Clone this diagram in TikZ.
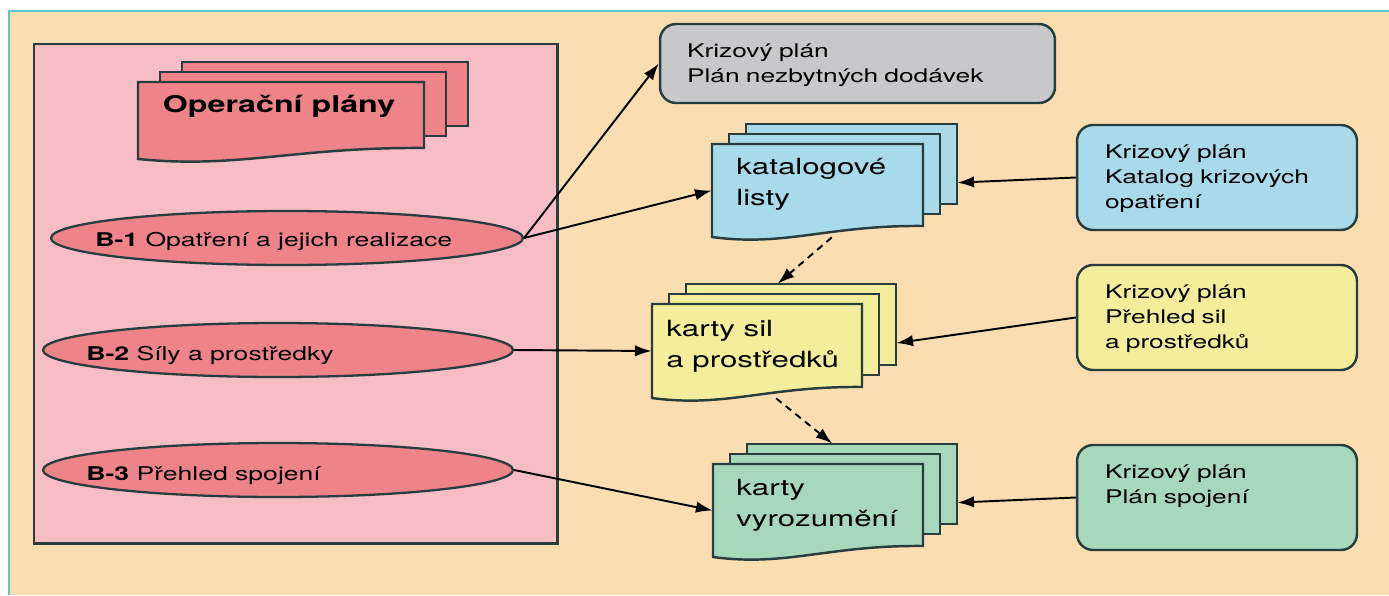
\documentclass[tikz,border=0pt]{standalone}
\usepackage{fontspec}
\setmainfont{TeX Gyre Heros}[FakeStretch=1.4]
\usetikzlibrary{arrows.meta,shapes.geometric}

\definecolor{paper}{RGB}{250,222,178}
\definecolor{rim}{RGB}{92,198,204}
\definecolor{ink}{RGB}{40,62,62}
\definecolor{planpink}{RGB}{246,190,196}
\definecolor{planred}{RGB}{238,132,138}
\definecolor{plangrey}{RGB}{200,200,202}
\definecolor{listblue}{RGB}{168,218,234}
\definecolor{listyellow}{RGB}{244,238,156}
\definecolor{listgreen}{RGB}{168,216,188}

% stack of three sheets, the front one with a wavy lower edge
% #1 name, #2 #3 top left corner of the front sheet, #4 width, #5 height,
% #6 step to the right between the sheets, #7 fill
\newcommand{\docstack}[7]{%
  \foreach \k in {2,1}
    \draw[sheet, fill=#7] (#2+\k*#6, #3-\k*10) rectangle ++(#4, #5-13);
  \draw[sheet, fill=#7] (#2,#3) -- ++(#4,0) -- ++(0,#5-11)
    .. controls (#2+0.55*#4, #3+#5-12) and (#2+0.35*#4, #3+#5+10) .. (#2,#3+#5)
    -- cycle;
  \node[minimum width=#4*0.02cm, minimum height=#5*0.02cm, inner sep=0]
    (#1) at (#2+0.5*#4, #3+0.5*#5) {};
  \node[minimum width=#4*0.02cm, minimum height=(#5-13)*0.02cm, inner sep=0]
    (#1-back) at (#2+2*#6+0.5*#4, #3-20+0.5*#5-6.5) {};
}

\begin{document}
\begin{tikzpicture}[x=0.02cm, y=-0.02cm,
    sheet/.style={draw=ink, line width=1.4pt},
    oval/.style={ellipse, draw=ink, fill=planred, line width=1.3pt,
      minimum height=1.08cm, inner sep=0},
    ovaltext/.style={anchor=base west, inner sep=0,
      font=\fontsize{10.8}{13}\selectfont},
    doctext/.style={anchor=north west, align=left, inner sep=0,
      font=\fontsize{12.7}{17.5}\selectfont},
    planbox/.style={draw=ink, line width=1.4pt, rounded corners=0.32cm,
      minimum width=5.6cm, minimum height=2.1cm, inner xsep=0.56cm,
      inner ysep=0.4cm, text width=4.48cm, text depth=1.02cm, align=left,
      font=\fontsize{10.7}{14.2}\selectfont},
    arr/.style={-{Latex[length=9.5pt,width=6.5pt]}, line width=1.1pt},
    dasharr/.style={arr, dash pattern=on 4pt off 3pt}]

  % paper and frame
  \useasboundingbox (0,0) rectangle (1389,595);
  \fill[paper] (9,11) rectangle (1389,595);
  \draw[rim, line width=1.2pt] (9,595) -- (9,11) -- (1389,11);
  \draw[ink, line width=1.7pt, fill=planpink] (34,44) rectangle (557,543);

  % operational plans
  \docstack{op}{138}{82}{286}{77}{22}{planred}
  \node[font=\bfseries\fontsize{13.1}{15}\selectfont] (op-t) at (279,106) {Operační plány};

  \node[oval, minimum width=9.44cm] (b1) at (287,238) {};
  \node[oval, minimum width=9.4cm] (b2) at (278,350) {};
  \node[oval, minimum width=9.4cm] (b3) at (278,470) {};
  \node[ovaltext] (b1-t) at (95,246) {\textbf{B-1} Opatření a jejich realizace};
  \node[ovaltext] (b2-t) at (86,360) {\textbf{B-2} Síly a prostředky};
  \node[ovaltext] (b3-t) at (86,480) {\textbf{B-3} Přehled spojení};

  % cards
  \docstack{kat}{712}{144}{211}{93}{17}{listblue}
  \docstack{sil}{652}{304}{210}{94}{17}{listyellow}
  \docstack{vyr}{713}{464}{210}{93}{17}{listgreen}
  \node[doctext] (kat-t) at (736,158) {katalogové\\listy};
  \node[doctext] (sil-t) at (666,320) {karty sil\\a prostředků};
  \node[doctext] (vyr-t) at (736,479) {karty\\vyrozumění};

  % crisis plan parts
  \node[planbox, fill=plangrey, minimum width=7.9cm, minimum height=1.58cm,
    inner xsep=0.54cm, text width=6.82cm, text depth=0.5cm]
    (kp-dod) at (857.5,63.5) {Krizový plán\\Plán nezbytných dodávek};
  \node[planbox, fill=listblue] (kp-kat) at (1217,177.5) {Krizový plán\\Katalog krizových\\opatření};
  \node[planbox, fill=listyellow] (kp-sil) at (1217,317.5) {Krizový plán\\Přehled sil\\a prostředků};
  \node[planbox, fill=listgreen] (kp-spoj) at (1217,497.5) {Krizový plán\\Plán spojení};

  \draw[arr] (b1.east) -- (kp-dod.west);
  \draw[arr] (b1.east) -- (kat.west);
  \draw[arr] (b2.east) -- (sil.west);
  \draw[arr] (b3.east) -- (vyr.west);

  \draw[arr] (kp-kat.west) -- (kat-back.-10);
  \draw[arr] (kp-sil.west) -- (sil-back.-10);
  \draw[arr] (kp-spoj.west) -- (vyr-back.-10);

  \draw[dasharr] (kat.-73) -- (sil-back.108);
  \draw[dasharr] (sil.-68) -- (vyr-back.116);

\end{tikzpicture}
\end{document}
